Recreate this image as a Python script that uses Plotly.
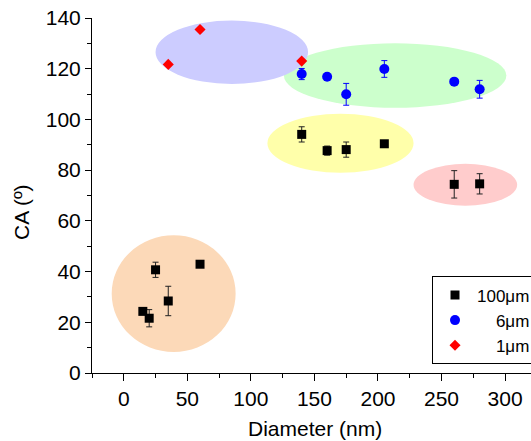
import plotly.graph_objects as go

# 100 µm series (black squares)
d100 = [15, 20, 25, 35, 60, 140, 160, 175, 205, 260, 280]
ca100 = [24.3, 21.6, 40.7, 28.4, 42.9, 94.1, 87.7, 88.1, 90.4, 74.4, 74.6]
err100 = [0, 3.4, 3.0, 5.8, 0, 3.0, 1.8, 3.0, 0, 5.4, 4.0]

# 6 µm series (blue circles)
d6 = [140, 160, 175, 205, 260, 280]
ca6 = [117.9, 116.8, 109.9, 119.9, 114.9, 111.9]
err6 = [2.2, 0, 4.3, 3.3, 0, 3.5]

# 1 µm series (red diamonds)
d1 = [35, 60, 140]
ca1 = [121.7, 135.5, 123.0]

# highlight regions (data-space bounding boxes of ellipses)
ell_x0 = [126, 25, 113, 228, -9.5]
ell_x1 = [301, 145, 228, 309.5, 88]
ell_y0 = [104.6, 114, 79, 66, 8.3]
ell_y1 = [130, 139, 102.2, 82.5, 54.3]
ell_colors = ["#CCFFCC", "#CCCCFF", "#FFFFAA", "#FFCCCC", "#FCD9B8"]

FONT = "Arial, Liberation Sans, sans-serif"
FS = "\u2007\u2007"

fig = go.Figure()
fig.add_trace(go.Scatter(
    x=d100, y=ca100, mode="markers", name="100\u03bcm",
    marker=dict(symbol="square", size=9, color="black"),
    error_y=dict(type="data", array=err100, color="#222222", thickness=1, width=3),
))
fig.add_trace(go.Scatter(
    x=d6, y=ca6, mode="markers", name=FS + "6\u03bcm",
    marker=dict(symbol="circle", size=10, color="#0000FF"),
    error_y=dict(type="data", array=err6, color="#0000FF", thickness=1, width=3),
))
fig.add_trace(go.Scatter(
    x=d1, y=ca1, mode="markers", name=FS + "1\u03bcm",
    marker=dict(symbol="diamond", size=8.5, color="#FF0000"),
))

shapes = []
for x0, x1, y0, y1, c in zip(ell_x0, ell_x1, ell_y0, ell_y1, ell_colors):
    shapes.append(dict(type="circle", xref="x", yref="y", x0=x0, x1=x1, y0=y0, y1=y1,
                       fillcolor=c, line=dict(width=0), layer="below"))

fig.update_layout(
    width=531, height=441,
    margin=dict(l=92, r=0, t=18, b=68, autoexpand=False),
    paper_bgcolor="white", plot_bgcolor="white",
    font=dict(family=FONT, size=21, color="black"),
    shapes=shapes,
    showlegend=True,
    legend=dict(x=0.7745, y=0.272, xanchor="left", yanchor="top",
                bordercolor="black", borderwidth=1, bgcolor="rgba(255,255,255,0)",
                font=dict(family=FONT, size=17, color="black"),
                tracegroupgap=0, itemwidth=34),
    xaxis=dict(range=[-25, 320.4], showgrid=False, zeroline=False,
               showline=True, linecolor="black", linewidth=1,
               ticks="outside", ticklen=7, tickcolor="black", tickwidth=1,
               tick0=0, dtick=50, tickfont=dict(size=21),
               minor=dict(ticks="outside", ticklen=4, dtick=25, tick0=0, tickcolor="black", showgrid=False)),
    yaxis=dict(range=[0, 140], showgrid=False, zeroline=False,
               showline=True, linecolor="black", linewidth=1,
               ticks="outside", ticklen=6, tickcolor="black", tickwidth=1,
               tick0=0, dtick=20, tickfont=dict(size=21), ticklabeloverflow="allow",
               minor=dict(ticks="outside", ticklen=4, dtick=10, tick0=0, tickcolor="black", showgrid=False)),
    annotations=[
        dict(text="Diameter (nm)", xref="paper", yref="paper", x=0.508, y=-0.155,
             xanchor="center", yanchor="middle", showarrow=False, font=dict(size=21)),
        dict(text="CA (\u00ba)", xref="paper", yref="paper", x=-0.162, y=0.4535,
             xanchor="center", yanchor="middle", textangle=-90, showarrow=False, font=dict(size=21)),
    ],
)

# remove the browser's default 8px body margin so the figure fills the window exactly
fig.write_html("out.html", config={"displayModeBar": False},
               post_script="document.body.style.margin='0';")
